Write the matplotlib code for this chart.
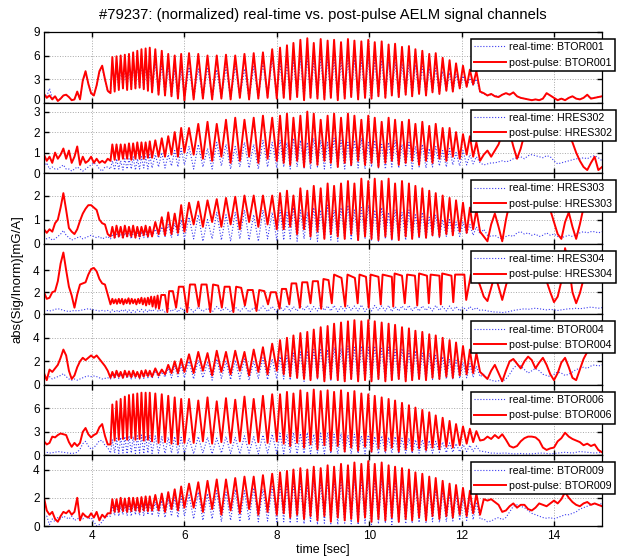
import matplotlib.pyplot as plt
import matplotlib.transforms as mtransforms
import numpy as np

plt.rcParams["font.family"] = ["Liberation Sans", "DejaVu Sans"]

# ---------------------------------------------------------------------------
# Data
# ---------------------------------------------------------------------------

channels = ["BTOR001", "HRES302", "HRES303", "HRES304", "BTOR004", "BTOR006", "BTOR009"]
y_tops = [9.0, 3.44, 2.93, 6.4, 6.0, 9.0, 5.0]
y_ticks = [[0, 3, 6, 9], [0, 1, 2, 3], [0, 1, 2], [0, 2, 4], [0, 2, 4], [0, 3, 6], [0, 2, 4]]
x_ticks = [4, 6, 8, 10, 12, 14]

# sample times before the ELM phase, and after it
pre_t = [2.96, 3.02, 3.08, 3.14, 3.20, 3.26, 3.32, 3.38, 3.44, 3.50, 3.56, 3.62,
         3.68, 3.74, 3.80, 3.86, 3.92, 3.98, 4.04, 4.10, 4.16, 4.22, 4.28, 4.34]
post_t = [12.48, 12.56, 12.64, 12.72, 12.80, 12.88, 12.96, 13.04, 13.12, 13.20, 13.28,
          13.36, 13.44, 13.52, 13.60, 13.68, 13.76, 13.84, 13.92, 14.00, 14.08, 14.16,
          14.24, 14.32, 14.40, 14.48, 14.56, 14.64, 14.72, 14.80, 14.88, 14.96, 15.04]

# ELM cycle times shared by the channels: minima and maxima
elm_trough_t = [4.40, 4.49, 4.58, 4.67, 4.76, 4.85, 4.94, 5.03, 5.12, 5.21, 5.30,
                5.44, 5.58, 5.72, 5.86, 6.00,
                6.20, 6.40, 6.60, 6.80, 7.00, 7.20, 7.40, 7.60, 7.80, 8.00,
                8.15, 8.29, 8.44, 8.59, 8.73, 8.88, 9.03, 9.17, 9.32, 9.47,
                9.61, 9.76, 9.91, 10.05, 10.20, 10.35, 10.49, 10.64, 10.79, 10.93,
                11.08, 11.23, 11.37, 11.52, 11.67, 11.81, 11.96, 12.11, 12.25, 12.40]
elm_peak_t = [4.44, 4.53, 4.62, 4.71, 4.80, 4.89, 4.98, 5.07, 5.16, 5.25,
              5.37, 5.51, 5.65, 5.79, 5.93,
              6.10, 6.30, 6.50, 6.70, 6.90, 7.10, 7.30, 7.50, 7.70, 7.90,
              8.07, 8.22, 8.36, 8.51, 8.66, 8.80, 8.95, 9.10, 9.24, 9.39,
              9.54, 9.68, 9.83, 9.98, 10.12, 10.27, 10.42, 10.56, 10.71, 10.86,
              11.00, 11.15, 11.30, 11.44, 11.59, 11.74, 11.88, 12.03, 12.18, 12.32]

# --- BTOR001 ---
p1_red_pre = [1.1, 0.6, 0.9, 0.4, 0.8, 0.2, 0.5, 0.9, 1.0, 0.7, 0.3, 0.4,
              1.4, 0.4, 2.8, 4.0, 2.4, 1.2, 0.9, 2.2, 4.0, 4.7, 3.0, 1.5]
p1_blue_pre = [1.0, 0.8, 1.8, 0.5, 0.8, 0.3, 0.5, 0.9, 1.0, 0.7, 0.3, 0.4,
               1.2, 0.5, 2.7, 3.8, 2.3, 1.1, 0.9, 2.1, 3.8, 4.5, 2.8, 1.4]
p1_red_pk = [5.8, 5.9, 6.0, 6.1, 6.2, 6.4, 6.6, 6.8, 6.9, 7.0,
             6.8, 6.6, 6.2, 6.0, 6.2,
             6.3, 6.2, 6.0, 6.0, 6.1, 6.0, 6.2, 6.3, 6.4, 6.8,
             7.0, 7.3, 7.6, 8.0, 8.2, 7.6, 8.1, 7.9, 8.0, 7.7, 8.1, 7.9, 7.8, 8.0, 7.7,
             7.8, 7.4, 7.5, 7.1, 7.2, 6.8, 6.6, 6.2, 6.3, 5.7, 5.4, 5.0, 4.7, 4.2, 4.0]
p1_red_tr = [1.2, 1.4, 1.6, 1.8, 1.6, 1.7, 1.8, 1.9, 1.7, 1.5, 1.3,
             1.0, 0.9, 0.8, 0.5, 0.3,
             0.4, 0.5, 0.4, 0.5, 0.4, 0.6, 0.4, 0.5, 0.6, 0.5,
             0.6, 0.4, 0.7, 0.3, 0.6, 0.5, 0.4, 0.6, 0.3, 0.5, 0.7, 0.4, 0.6, 0.5, 0.8,
             0.6, 0.9, 0.7, 1.0, 0.8, 1.1, 0.9, 1.3, 1.1, 1.5, 1.4, 1.8, 2.0, 2.3, 1.4]
p1_blue_pk = [4.5, 4.6, 4.7, 4.6, 4.8, 5.0, 5.0, 5.2, 5.0, 5.2,
              5.0, 4.8, 4.5, 4.2, 4.3,
              4.5, 4.3, 4.5, 4.2, 4.5, 4.6, 4.3, 4.6, 5.0, 5.5,
              5.0, 5.2, 5.4, 5.6, 5.8, 5.3, 5.7, 5.5, 5.6, 5.4, 5.7, 5.5, 5.4, 5.6, 5.4,
              5.4, 5.2, 5.2, 5.0, 5.0, 4.8, 4.6, 4.4, 4.4, 4.0, 3.8, 3.6, 3.4, 3.1, 3.0]
p1_blue_tr = [1.3, 1.5, 1.7, 1.8, 1.7, 1.7, 1.8, 1.9, 1.7, 1.5, 1.3,
              1.0, 0.9, 0.8, 0.5, 0.35,
              0.45, 0.55, 0.45, 0.55, 0.45, 0.65, 0.45, 0.55, 0.65, 0.55,
              0.6, 0.4, 0.7, 0.35, 0.6, 0.5, 0.45, 0.6, 0.35, 0.5, 0.7, 0.45, 0.6, 0.5, 0.8,
              0.6, 0.9, 0.7, 1.0, 0.8, 1.1, 0.9, 1.3, 1.1, 1.5, 1.4, 1.8, 2.0, 2.2, 1.3]
p1_red_post = [1.2, 0.9, 1.1, 0.8, 0.7, 1.0, 1.2, 1.0, 1.3, 0.8, 0.6, 0.5, 0.4, 0.3, 0.4, 0.3, 0.5,
               1.2, 0.9, 0.6, 0.3, 0.5, 0.3, 0.6, 0.8, 0.5, 0.4, 0.6, 1.0, 0.5, 0.6, 0.7, 0.8]
p1_blue_post = [1.1, 0.9, 1.0, 0.9, 0.8, 1.0, 1.2, 1.1, 1.2, 0.8, 0.6, 0.5, 0.4, 0.35, 0.4, 0.3, 0.5,
                1.1, 0.9, 0.6, 0.35, 0.5, 0.35, 0.6, 0.8, 0.5, 0.45, 0.6, 0.9, 0.55, 0.65, 0.7, 0.8]

# --- HRES302 ---
p2_red_pre = [0.9, 0.6, 0.8, 0.5, 1.0, 0.7, 0.9, 1.2, 0.7, 1.1, 0.5, 0.8,
              1.3, 0.4, 0.8, 0.5, 0.6, 0.8, 0.5, 0.7, 0.5, 0.6, 0.5, 0.7]
p2_blue_pre = [0.3, 0.5, 0.2, 0.3, 0.2, 0.2, 0.3, 0.4, 0.2, 0.2, 0.1, 0.2,
               0.3, 0.2, 0.1, 0.2, 0.3, 0.4, 0.5, 0.4, 0.2, 0.1, 0.3, 0.3]
p2_red_pk = [1.4, 1.4, 1.4, 1.4, 1.45, 1.45, 1.5, 1.5, 1.5, 1.55,
             1.6, 1.7, 1.8, 2.0, 2.2,
             2.2, 2.4, 2.5, 2.4, 2.6, 2.7, 2.6, 2.7, 2.8, 2.7,
             2.8, 2.9, 2.7, 2.8, 3.0, 2.9, 2.6, 2.8, 2.9, 2.7, 2.9, 2.8, 2.6, 2.8, 2.7,
             2.5, 2.7, 2.6, 2.5, 2.6, 2.4, 2.5, 2.3, 2.4, 2.2, 2.2, 2.0, 1.9, 1.8, 1.5]
p2_red_tr = [0.6, 0.65, 0.65, 0.7, 0.7, 0.65, 0.7, 0.7, 0.7, 0.75, 0.75,
             0.8, 0.8, 0.9, 0.8, 1.0,
             0.9, 0.7, 0.6, 0.8, 0.5, 0.6, 0.8, 0.5, 0.7, 0.6,
             0.5, 0.4, 0.6, 0.3, 0.5, 0.4, 0.6, 0.5, 0.3, 0.5, 0.4, 0.6, 0.4, 0.5, 0.3,
             0.5, 0.6, 0.4, 0.5, 0.6, 0.4, 0.6, 0.5, 0.7, 0.6, 0.8, 0.7, 0.9, 0.8, 0.6]
p2_blue_pk = [0.6, 0.7, 0.6, 0.7, 0.7, 0.8, 0.7, 0.8, 0.8, 0.9,
              0.9, 1.0, 0.9, 1.1, 1.2,
              1.3, 1.4, 1.2, 1.5, 1.4, 1.3, 1.5, 1.4, 1.6, 1.5,
              1.6, 1.5, 1.7, 1.6, 1.5, 1.7, 1.6, 1.5, 1.7, 1.6, 1.5, 1.6, 1.7, 1.5, 1.6,
              1.4, 1.5, 1.6, 1.4, 1.5, 1.3, 1.4, 1.2, 1.3, 1.1, 1.2, 1.0, 1.1, 0.9, 0.8]
p2_blue_tr = [0.2, 0.15, 0.2, 0.15, 0.2, 0.2, 0.15, 0.2, 0.25, 0.2, 0.25,
              0.3, 0.25, 0.35, 0.3, 0.4,
              0.2, 0.3, 0.2, 0.35, 0.2, 0.3, 0.25, 0.2, 0.3, 0.25,
              0.3, 0.2, 0.3, 0.25, 0.2, 0.3, 0.2, 0.25, 0.3, 0.2, 0.3, 0.25, 0.2, 0.3, 0.25,
              0.2, 0.3, 0.25, 0.3, 0.2, 0.3, 0.25, 0.3, 0.35, 0.3, 0.4, 0.35, 0.4, 0.45, 0.5]
p2_red_post = [0.9, 1.1, 0.8, 1.1, 1.4, 1.9, 2.3, 2.0, 1.3, 0.7, 1.2, 1.9, 2.3, 2.5, 2.6, 2.5, 2.4,
               2.6, 2.5, 2.4, 2.3, 2.4, 2.2, 1.9, 1.5, 1.0, 0.6, 0.3, 0.15, 0.5, 0.8, 0.15, 0.3]
p2_blue_post = [0.4, 0.45, 0.5, 0.5, 0.55, 0.6, 0.55, 0.6, 0.7, 0.75, 0.8, 0.7, 0.85, 0.9, 0.85, 0.8,
                0.75, 0.85, 0.8, 0.6, 0.45, 0.5, 0.55, 0.6, 0.65, 0.7, 0.7, 0.75, 0.7, 0.8, 0.85, 0.75, 0.6]

# --- HRES303 ---
p3_red_pre = [0.6, 0.45, 0.6, 0.5, 0.85, 1.0, 1.5, 2.1, 1.4, 0.65, 0.5, 0.4,
              0.6, 0.95, 1.25, 1.45, 1.6, 1.6, 1.5, 1.4, 1.0, 0.85, 0.8, 0.4]
p3_blue_pre = [0.3, 0.2, 0.25, 0.15, 0.2, 0.3, 0.4, 0.55, 0.35, 0.25, 0.15, 0.2,
               0.25, 0.3, 0.2, 0.25, 0.3, 0.35, 0.3, 0.25, 0.3, 0.2, 0.25, 0.3]
p3_red_pk = [0.7, 0.75, 0.7, 0.75, 0.7, 0.75, 0.7, 0.7, 0.75, 0.7,
             0.9, 1.1, 1.3, 1.25, 1.6,
             1.7, 1.75, 1.8, 1.85, 1.9, 1.95, 2.0, 2.0, 2.0, 2.0,
             2.1, 2.2, 2.0, 2.3, 2.2, 2.4, 2.3, 2.5, 2.4, 2.5, 2.6, 2.5, 2.7, 2.6, 2.7,
             2.6, 2.7, 2.5, 2.6, 2.5, 2.4, 2.3, 2.2, 2.1, 2.0, 1.9, 1.8, 1.7, 1.5, 1.4]
p3_red_tr = [0.3, 0.25, 0.3, 0.25, 0.3, 0.3, 0.25, 0.3, 0.35, 0.3, 0.3,
             0.4, 0.35, 0.4, 0.45, 0.5,
             0.8, 0.7, 0.9, 0.7, 0.8, 0.6, 0.9, 0.7, 0.8, 0.6,
             0.6, 0.7, 0.4, 0.6, 0.3, 0.5, 0.2, 0.4, 0.3, 0.2, 0.4, 0.15, 0.3, 0.2, 0.15,
             0.3, 0.2, 0.15, 0.3, 0.2, 0.3, 0.25, 0.35, 0.3, 0.4, 0.35, 0.5, 0.45, 0.6, 0.5]
p3_blue_pk = [0.4, 0.45, 0.4, 0.45, 0.45, 0.5, 0.45, 0.5, 0.5, 0.55,
              0.6, 0.7, 0.8, 0.85, 1.0,
              1.1, 1.2, 1.0, 1.3, 1.2, 1.3, 1.4, 1.2, 1.4, 1.3,
              1.4, 1.3, 1.5, 1.4, 1.3, 1.5, 1.4, 1.6, 1.4, 1.5, 1.6, 1.4, 1.5, 1.6, 1.4,
              1.5, 1.3, 1.4, 1.3, 1.4, 1.2, 1.3, 1.1, 1.2, 1.0, 1.0, 0.9, 0.9, 0.8, 0.7]
p3_blue_tr = [0.2, 0.2, 0.25, 0.2, 0.25, 0.2, 0.25, 0.2, 0.25, 0.25, 0.3,
              0.25, 0.3, 0.25, 0.3, 0.2,
              0.2, 0.1, 0.2, 0.15, 0.1, 0.2, 0.15, 0.1, 0.2, 0.15,
              0.15, 0.2, 0.1, 0.2, 0.15, 0.1, 0.2, 0.15, 0.1, 0.2, 0.15, 0.1, 0.2, 0.15, 0.1,
              0.2, 0.15, 0.2, 0.15, 0.2, 0.25, 0.2, 0.3, 0.25, 0.3, 0.35, 0.3, 0.4, 0.35, 0.4]
p3_red_post = [0.3, 0.1, 0.8, 1.25, 0.7, 0.1, 1.0, 1.7, 2.1, 2.3, 2.4, 2.4, 2.3, 2.4, 2.4, 2.3, 2.2,
               1.9, 1.4, 0.9, 0.4, 0.2, 0.9, 1.3, 0.7, 0.2, 0.8, 1.5, 2.0, 2.3, 2.4, 2.3, 2.4]
p3_blue_post = [0.6, 0.35, 0.3, 0.35, 0.25, 0.2, 0.3, 0.35, 0.3, 0.45, 0.5, 0.4, 0.45, 0.35, 0.4, 0.3,
                0.35, 0.45, 0.35, 0.4, 0.3, 0.25, 0.3, 0.35, 0.3, 0.4, 0.45, 0.5, 0.45, 0.5, 0.5, 0.45, 0.5]

# --- HRES304 (post-pulse has its own, slower pulse train) ---
p4_red_pre = [2.0, 1.4, 1.5, 2.0, 2.1, 3.0, 4.6, 5.6, 4.0, 2.5, 1.7, 0.6,
              1.8, 2.7, 2.8, 2.9, 3.6, 4.1, 4.2, 3.9, 3.2, 2.8, 2.7, 1.8]
p4_blue_pre = [0.3, 0.35, 0.3, 0.35, 0.45, 0.5, 0.45, 0.35, 0.3, 0.25, 0.3, 0.35,
               0.3, 0.35, 0.4, 0.45, 0.5, 0.45, 0.4, 0.35, 0.3, 0.35, 0.3, 0.35]
p4_osc_t = [4.40, 4.44, 4.47, 4.51, 4.54, 4.58, 4.61, 4.65, 4.68, 4.72, 4.75, 4.79, 4.82,
            4.86, 4.89, 4.93, 4.96, 5.00, 5.03, 5.07, 5.10, 5.14, 5.17, 5.21, 5.24, 5.28,
            5.31, 5.35, 5.38, 5.42, 5.45,
            5.50, 5.58, 5.63, 5.67, 5.75, 5.82, 5.88, 5.98, 6.06, 6.12, 6.23, 6.31,
            6.37, 6.48, 6.56, 6.62, 6.73, 6.81, 6.87, 6.98, 7.06, 7.12, 7.23, 7.31,
            7.37, 7.48, 7.56, 7.62, 7.73, 7.81, 7.87, 7.98, 8.06, 8.11, 8.20, 8.27,
            8.32, 8.42, 8.50, 8.55, 8.66, 8.73, 8.78, 8.89, 8.96, 9.01, 9.12, 9.19,
            9.24, 9.40, 9.48, 9.53, 9.69, 9.75, 9.79, 9.93, 9.99, 10.03, 10.20, 10.25,
            10.29, 10.49, 10.52, 10.55, 10.71, 10.77, 10.82, 10.99, 11.04, 11.08, 11.25, 11.29,
            11.33, 11.52, 11.55, 11.58, 11.78, 11.82, 11.86, 12.06, 12.10,
            12.20, 12.30, 12.40]
p4_red_osc = [0.9, 1.4, 1.0, 1.35, 0.95, 1.4, 1.0, 1.4, 0.9, 1.35, 1.0, 1.45, 0.95,
              1.4, 1.0, 1.35, 0.9, 1.4, 1.0, 1.5, 0.9, 1.45, 0.8, 1.5, 0.9, 1.6,
              0.7, 1.6, 0.6, 1.7, 0.5,
              1.75, 1.75, 0.2, 2.1, 2.1, 0.6, 2.5, 2.5, 0.2, 2.7, 2.7, 0.7,
              2.7, 2.7, 0.2, 2.7, 2.6, 0.6, 2.5, 2.5, 0.2, 2.5, 2.4, 0.8,
              2.2, 2.2, 0.3, 2.2, 2.1, 0.9, 2.0, 2.0, 0.5, 2.3, 2.3, 0.9,
              2.8, 2.8, 0.6, 2.9, 2.9, 1.0, 3.0, 3.0, 0.5, 3.2, 3.1, 1.0,
              3.6, 3.3, 0.7, 3.6, 3.3, 1.0, 3.6, 3.4, 0.6, 3.6, 3.4, 0.9,
              3.6, 3.4, 0.7, 3.7, 3.5, 1.0, 3.6, 3.5, 0.8, 3.7, 3.5, 1.0,
              3.6, 3.5, 0.9, 3.7, 3.5, 1.1, 3.6, 3.6, 1.3,
              3.6, 3.7, 2.6]
p4_blue_pk = [0.4, 0.35, 0.4, 0.45, 0.4, 0.35, 0.4, 0.45, 0.4, 0.45,
              0.5, 0.45, 0.55, 0.5, 0.6,
              0.6, 0.65, 0.55, 0.7, 0.6, 0.65, 0.7, 0.6, 0.75, 0.7,
              0.7, 0.8, 0.7, 0.75, 0.8, 0.7, 0.85, 0.75, 0.8, 0.7, 0.8, 0.75, 0.85, 0.7, 0.8,
              0.75, 0.8, 0.7, 0.75, 0.8, 0.7, 0.75, 0.7, 0.8, 0.7, 0.75, 0.7, 0.65, 0.7, 0.6]
p4_blue_tr = [0.2, 0.25, 0.2, 0.25, 0.2, 0.15, 0.2, 0.25, 0.2, 0.2, 0.25,
              0.25, 0.2, 0.25, 0.2, 0.25,
              0.2, 0.25, 0.2, 0.3, 0.2, 0.25, 0.2, 0.3, 0.25, 0.2,
              0.3, 0.25, 0.3, 0.35, 0.25, 0.3, 0.35, 0.3, 0.25, 0.3, 0.35, 0.3, 0.25, 0.3, 0.35,
              0.3, 0.25, 0.3, 0.35, 0.3, 0.3, 0.35, 0.3, 0.35, 0.3, 0.35, 0.3, 0.35, 0.4, 0.35]
p4_red_post = [1.6, 1.2, 2.4, 3.6, 2.5, 1.3, 2.6, 3.8, 4.3, 4.6, 4.7, 4.8, 4.7, 4.6, 4.7, 4.5, 3.9,
               3.0, 2.0, 1.1, 1.6, 3.0, 6.0, 4.5, 2.0, 1.0, 1.9, 3.2, 4.2, 4.8, 5.0, 4.9, 5.0]
p4_blue_post = [0.4, 0.3, 0.25, 0.2, 0.2, 0.15, 0.2, 0.25, 0.35, 0.4, 0.45, 0.5, 0.45, 0.5, 0.55, 0.5,
                0.45, 0.4, 0.45, 0.4, 0.35, 0.4, 0.45, 0.5, 0.5, 0.55, 0.5, 0.55, 0.6, 0.65, 0.6, 0.55, 0.6]

# --- BTOR004 ---
p5_red_pre = [1.0, 0.4, 1.3, 1.1, 1.4, 1.7, 2.3, 3.0, 2.5, 1.2, 0.5, 0.8,
              1.5, 2.0, 2.3, 2.1, 2.3, 2.5, 2.3, 2.5, 2.2, 1.9, 1.6, 1.2]
p5_blue_pre = [0.9, 0.5, 0.7, 0.5, 0.6, 0.7, 0.8, 0.95, 0.7, 0.5, 0.4, 0.5,
               0.4, 0.5, 0.6, 0.7, 0.75, 0.7, 0.75, 0.7, 0.6, 0.5, 0.55, 0.6]
p5_red_pk = [1.1, 1.2, 1.1, 1.2, 1.15, 1.2, 1.1, 1.2, 1.25, 1.2,
             1.4, 1.3, 1.7, 2.0, 2.2,
             2.6, 2.8, 2.7, 2.9, 2.8, 2.9, 2.8, 3.0, 3.2, 3.5,
             3.8, 4.0, 4.2, 4.4, 4.5, 4.7, 4.9, 5.0, 5.2, 5.3, 5.4, 5.5, 5.4, 5.5, 5.4,
             5.3, 5.2, 5.1, 4.9, 4.8, 4.6, 4.5, 4.3, 4.2, 4.0, 3.8, 3.6, 3.3, 3.0, 2.7]
p5_red_tr = [0.6, 0.65, 0.7, 0.6, 0.7, 0.65, 0.7, 0.6, 0.7, 0.75, 0.7,
             0.8, 0.9, 1.0, 1.0, 1.1,
             1.0, 1.2, 0.8, 1.1, 0.9, 1.2, 0.8, 1.1, 0.9, 1.2,
             0.9, 0.7, 0.6, 0.5, 0.4, 0.6, 0.3, 0.5, 0.4, 0.3, 0.5, 0.3, 0.4, 0.3, 0.5,
             0.3, 0.4, 0.5, 0.3, 0.4, 0.5, 0.4, 0.6, 0.5, 0.7, 0.6, 0.8, 0.9, 1.0, 1.1]
p5_blue_pk = [0.9, 0.95, 0.9, 1.0, 0.95, 1.0, 0.95, 1.0, 1.05, 1.0,
              1.2, 1.1, 1.4, 1.6, 1.7,
              2.0, 2.1, 1.9, 2.2, 2.0, 2.1, 2.2, 2.0, 2.3, 2.2,
              2.4, 2.5, 2.7, 2.8, 2.9, 3.0, 3.1, 3.0, 3.2, 3.1, 3.3, 3.2, 3.3, 3.2, 3.3,
              3.1, 3.2, 3.0, 3.1, 2.9, 2.9, 2.7, 2.7, 2.5, 2.4, 2.2, 2.1, 1.9, 1.8, 1.6]
p5_blue_tr = [0.5, 0.5, 0.55, 0.5, 0.55, 0.5, 0.55, 0.5, 0.55, 0.6, 0.55,
              0.6, 0.65, 0.6, 0.7, 0.6,
              0.5, 0.6, 0.4, 0.55, 0.45, 0.5, 0.4, 0.55, 0.45, 0.5,
              0.5, 0.4, 0.5, 0.3, 0.4, 0.5, 0.3, 0.4, 0.35, 0.3, 0.4, 0.3, 0.35, 0.3, 0.4,
              0.3, 0.35, 0.4, 0.3, 0.35, 0.4, 0.35, 0.45, 0.4, 0.5, 0.45, 0.55, 0.6, 0.65, 0.7]
p5_red_post = [0.8, 0.5, 1.2, 1.7, 1.0, 0.3, 1.2, 2.0, 2.2, 1.8, 1.4, 2.0, 2.4, 2.1, 1.4, 1.9, 2.3,
               1.7, 0.9, 0.4, 1.0, 1.9, 2.3, 1.5, 0.6, 0.4, 1.3, 2.2, 2.8, 3.1, 3.2, 3.1, 3.2]
p5_blue_post = [0.9, 0.5, 0.4, 0.3, 0.35, 0.3, 0.5, 0.9, 1.4, 1.7, 1.6, 1.3, 1.0, 1.2, 1.4, 1.2, 0.9,
                0.8, 0.7, 0.9, 1.1, 1.0, 0.8, 0.9, 1.1, 1.3, 1.4, 1.5, 1.4, 1.6, 1.7, 1.6, 1.7]

# --- BTOR006 ---
p6_red_pre = [1.8, 1.4, 1.6, 2.4, 2.3, 2.6, 2.8, 2.7, 2.6, 1.7, 1.1, 1.6,
              1.2, 1.6, 3.0, 3.5, 2.7, 2.3, 2.6, 2.8, 3.6, 4.0, 2.5, 1.4]
p6_blue_pre = [0.3, 0.4, 0.3, 0.35, 0.4, 0.5, 0.45, 0.4, 0.35, 0.3, 0.25, 0.3,
               0.4, 0.8, 1.5, 1.8, 1.2, 0.8, 1.0, 1.4, 1.9, 1.9, 1.3, 1.0]
p6_red_pk = [6.5, 6.9, 7.2, 7.5, 7.7, 7.8, 7.9, 8.0, 8.0, 8.0,
             7.9, 7.8, 7.6, 7.4, 7.2,
             7.2, 7.0, 7.4, 6.9, 7.3, 7.1, 7.5, 7.2, 7.6, 7.8,
             7.8, 8.1, 7.9, 8.3, 8.0, 8.4, 8.2, 8.3, 8.1, 8.3, 8.0, 8.2, 7.9, 7.8, 7.6,
             7.4, 7.2, 7.0, 6.7, 6.4, 6.1, 5.8, 5.5, 5.1, 4.8, 4.4, 4.0, 3.7, 3.4, 3.1]
p6_red_tr = [1.4, 1.9, 2.0, 2.1, 2.0, 2.2, 2.0, 2.1, 1.9, 2.0, 1.8,
             1.6, 1.7, 1.5, 1.4, 1.6,
             1.6, 1.8, 1.5, 1.7, 1.6, 1.8, 1.5, 1.7, 1.6, 1.8,
             1.5, 1.2, 1.6, 1.0, 1.4, 0.8, 1.3, 0.6, 1.2, 0.5, 1.0, 0.6, 1.1, 0.5, 0.9,
             0.6, 1.0, 0.5, 0.8, 0.6, 0.9, 0.7, 1.0, 0.8, 1.1, 1.0, 1.3, 1.5, 1.7, 1.9]
p6_blue_pk = [2.0, 2.2, 2.3, 2.4, 2.5, 2.4, 2.5, 2.6, 2.5, 2.6,
              2.5, 2.4, 2.3, 2.4, 2.3,
              2.2, 2.4, 2.3, 2.2, 2.4, 2.3, 2.5, 2.4, 2.6, 2.7,
              2.8, 2.7, 2.9, 2.8, 2.9, 2.7, 2.8, 2.9, 2.7, 2.8, 2.6, 2.7, 2.5, 2.6, 2.4,
              2.5, 2.3, 2.4, 2.2, 2.2, 2.0, 2.0, 1.9, 1.8, 1.7, 1.6, 1.5, 1.4, 1.3, 1.2]
p6_blue_tr = [0.3, 0.3, 0.25, 0.3, 0.2, 0.3, 0.25, 0.3, 0.2, 0.3, 0.25,
              0.3, 0.25, 0.3, 0.2, 0.3,
              0.2, 0.3, 0.2, 0.3, 0.25, 0.2, 0.3, 0.2, 0.3, 0.25,
              0.2, 0.3, 0.2, 0.25, 0.2, 0.3, 0.2, 0.25, 0.2, 0.3, 0.2, 0.25, 0.2, 0.3, 0.2,
              0.25, 0.3, 0.2, 0.3, 0.25, 0.3, 0.35, 0.3, 0.4, 0.35, 0.4, 0.45, 0.5, 0.5, 0.55]
p6_red_post = [2.0, 2.4, 2.1, 2.6, 2.2, 2.7, 2.0, 1.2, 1.0, 1.2, 1.8, 2.2, 2.4, 2.4, 2.3, 1.9, 1.0,
               0.7, 0.9, 1.0, 1.8, 2.2, 2.9, 2.4, 2.1, 1.9, 1.7, 1.3, 1.5, 1.2, 1.4, 0.7, 0.4]
p6_blue_post = [0.5, 0.4, 0.3, 0.3, 0.25, 0.3, 0.3, 0.25, 0.2, 0.2, 0.25, 0.2, 0.2, 0.2, 0.25, 0.3,
                0.3, 0.25, 0.2, 0.25, 0.3, 0.35, 0.4, 0.35, 0.3, 0.4, 0.5, 0.45, 0.4, 0.35, 0.3, 0.35, 0.4]

# --- BTOR009 ---
p7_red_pre = [2.0, 1.1, 0.8, 1.0, 0.5, 0.3, 0.7, 1.0, 0.9, 1.1, 0.8, 1.0,
              2.0, 0.4, 0.9, 0.7, 0.6, 0.9, 0.6, 1.0, 0.4, 0.8, 0.6, 0.9]
p7_blue_pre = [0.6, 0.7, 0.1, 0.5, 0.3, 0.6, 0.5, 0.7, 0.6, 0.5, 0.7, 0.4,
               0.5, 0.6, 0.5, 0.7, 0.5, 0.6, 0.3, 0.0, 0.1, 0.3, 0.6, 0.7]
p7_red_pk = [1.9, 1.9, 2.0, 1.95, 2.0, 2.0, 2.0, 2.05, 2.1, 2.1,
             2.2, 2.3, 2.4, 2.6, 2.8,
             3.0, 3.1, 3.2, 3.3, 3.3, 3.4, 3.5, 3.5, 3.6, 3.7,
             3.8, 3.9, 4.0, 4.1, 4.0, 4.2, 4.1, 4.3, 4.2, 4.4, 4.3, 4.5, 4.4, 4.6, 4.4,
             4.5, 4.3, 4.2, 4.1, 4.0, 3.8, 3.7, 3.5, 3.4, 3.2, 3.0, 2.9, 2.7, 2.5, 2.3]
p7_red_tr = [0.9, 1.0, 1.0, 1.05, 1.0, 1.05, 1.1, 1.0, 1.1, 1.05, 1.1,
             1.1, 1.0, 1.2, 1.1, 1.3,
             1.3, 1.0, 1.2, 0.8, 1.1, 0.9, 1.2, 0.8, 1.0, 0.8,
             0.9, 0.6, 0.8, 0.5, 0.7, 0.4, 0.7, 0.3, 0.6, 0.4, 0.5, 0.3, 0.6, 0.3, 0.5,
             0.4, 0.6, 0.3, 0.5, 0.4, 0.6, 0.4, 0.7, 0.5, 0.7, 0.6, 0.8, 0.7, 0.9, 0.8]
p7_blue_pk = [1.4, 1.5, 1.4, 1.5, 1.5, 1.6, 1.5, 1.6, 1.6, 1.7,
              1.7, 1.8, 1.9, 2.0, 2.1,
              2.2, 2.4, 2.3, 2.5, 2.4, 2.6, 2.5, 2.7, 2.6, 2.8,
              2.9, 3.0, 3.0, 3.1, 3.0, 3.2, 3.1, 3.3, 3.2, 3.3, 3.2, 3.4, 3.3, 3.4, 3.3,
              3.3, 3.2, 3.1, 3.1, 3.0, 2.9, 2.8, 2.7, 2.6, 2.4, 2.3, 2.2, 2.0, 1.9, 1.7]
p7_blue_tr = [0.7, 0.75, 0.7, 0.8, 0.75, 0.7, 0.8, 0.75, 0.7, 0.8, 0.75,
              0.7, 0.6, 0.7, 0.6, 0.7,
              0.5, 0.4, 0.5, 0.3, 0.4, 0.3, 0.4, 0.3, 0.35, 0.3,
              0.3, 0.2, 0.3, 0.15, 0.25, 0.1, 0.2, 0.15, 0.1, 0.2, 0.15, 0.1, 0.2, 0.1, 0.15,
              0.2, 0.1, 0.2, 0.15, 0.2, 0.25, 0.2, 0.3, 0.25, 0.3, 0.35, 0.4, 0.4, 0.45, 0.5]
p7_red_post = [1.9, 1.8, 1.9, 1.7, 1.5, 1.0, 1.1, 1.4, 1.6, 1.3, 1.5, 1.5, 1.2, 1.1, 1.3, 1.6, 1.5,
               1.4, 1.6, 1.8, 1.6, 1.9, 2.4, 2.0, 1.7, 1.5, 1.4, 1.6, 1.7, 1.5, 1.6, 1.5, 1.4]
p7_blue_post = [0.5, 0.3, 0.35, 0.5, 0.6, 0.45, 0.6, 1.0, 1.4, 1.5, 1.4, 1.3, 1.1, 0.9, 0.8, 0.7, 0.6,
                0.55, 0.6, 0.5, 0.6, 0.7, 0.8, 0.8, 0.9, 1.0, 1.2, 1.3, 1.4, 1.5, 1.6, 1.5, 1.6]


# ---------------------------------------------------------------------------
# Helpers
# ---------------------------------------------------------------------------

def build(pre, trough_v, peak_v, post):
    """Join pre-phase samples, alternating ELM minima/maxima and post-phase samples."""
    mid_t = np.empty(len(elm_trough_t) + len(elm_peak_t))
    mid_v = np.empty_like(mid_t)
    mid_t[0::2], mid_t[1::2] = elm_trough_t, elm_peak_t
    mid_v[0::2], mid_v[1::2] = trough_v, peak_v
    return (np.concatenate([pre_t, mid_t, post_t]),
            np.concatenate([pre, mid_v, post]))


realtime = [
    build(p1_blue_pre, p1_blue_tr, p1_blue_pk, p1_blue_post),
    build(p2_blue_pre, p2_blue_tr, p2_blue_pk, p2_blue_post),
    build(p3_blue_pre, p3_blue_tr, p3_blue_pk, p3_blue_post),
    build(p4_blue_pre, p4_blue_tr, p4_blue_pk, p4_blue_post),
    build(p5_blue_pre, p5_blue_tr, p5_blue_pk, p5_blue_post),
    build(p6_blue_pre, p6_blue_tr, p6_blue_pk, p6_blue_post),
    build(p7_blue_pre, p7_blue_tr, p7_blue_pk, p7_blue_post),
]
postpulse = [
    build(p1_red_pre, p1_red_tr, p1_red_pk, p1_red_post),
    build(p2_red_pre, p2_red_tr, p2_red_pk, p2_red_post),
    build(p3_red_pre, p3_red_tr, p3_red_pk, p3_red_post),
    (np.concatenate([pre_t, p4_osc_t, post_t]),
     np.concatenate([p4_red_pre, p4_red_osc, p4_red_post])),
    build(p5_red_pre, p5_red_tr, p5_red_pk, p5_red_post),
    build(p6_red_pre, p6_red_tr, p6_red_pk, p6_red_post),
    build(p7_red_pre, p7_red_tr, p7_red_pk, p7_red_post),
]

# ---------------------------------------------------------------------------
# Figure
# ---------------------------------------------------------------------------

fig, axes = plt.subplots(7, 1, sharex=True, figsize=(6.3, 5.6), dpi=100)
fig.subplots_adjust(left=0.0698, right=0.9556, top=0.9429, bottom=0.0607, hspace=0)

for ax, name, rt, pp, top, ticks in zip(axes, channels, realtime, postpulse, y_tops, y_ticks):
    ax.plot(*rt, color="#3a3af0", lw=0.8, ls=":", label=f"real-time: {name}")
    ax.plot(*pp, color="#ff0000", lw=1.4, label=f"post-pulse: {name}")
    ax.set_ylim(0, top)
    ax.set_yticks(ticks)
    ax.set_xlim(2.96, 15.04)
    ax.set_xticks(x_ticks)
    ax.grid(True, ls=":", color="#a8a8a8", lw=0.7)
    ax.tick_params(direction="in", top=True, right=True, length=3.5, width=1.0,
                   labelsize=8.5, pad=3)
    for sp in ax.spines.values():
        sp.set_linewidth(0.9)
    leg = ax.legend(loc="upper left", bbox_to_anchor=(0.765, 0.9), borderaxespad=0,
                    fontsize=7.7, handlelength=3.0, handletextpad=0.3, borderpad=0.3,
                    labelspacing=0.5, fancybox=False, framealpha=1)
    leg.get_frame().set_edgecolor("black")
    leg.get_frame().set_linewidth(1.1)

# lift the bottom "0" of the top panel a touch so it clears the "3" below it
zero_lbl = axes[0].get_yticklabels()[0]
zero_lbl.set_transform(zero_lbl.get_transform()
                       + mtransforms.ScaledTranslation(0, 2.5 / 72, fig.dpi_scale_trans))

fig.text(0.5127, 1 - 15 / 560, "#79237: (normalized) real-time vs. post-pulse AELM signal channels",
         ha="center", va="center", fontsize=10.6)
fig.text(18 / 630, 0.502, "abs(Sig/Inorm)[mG/A]", rotation=90, ha="center", va="center", fontsize=9.5)
fig.text(0.5127, 1 - 550 / 560, "time [sec]", ha="center", va="center", fontsize=9)

fig.savefig("out.png", dpi=100)
